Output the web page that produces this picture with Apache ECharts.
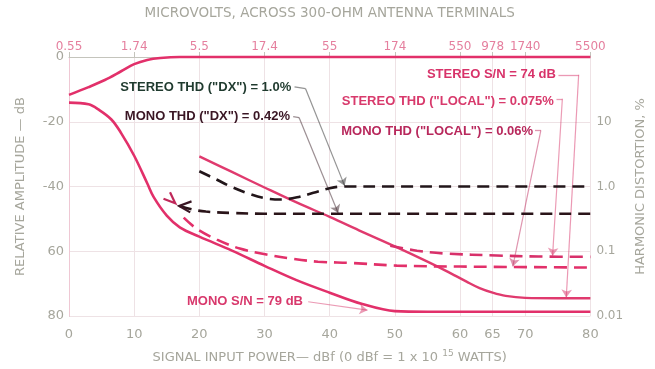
<!DOCTYPE html>
<html><head><meta charset="utf-8">
<script src="https://cdn.jsdelivr.net/npm/echarts@6/dist/echarts.min.js"></script>
<style>html,body{margin:0;padding:0;background:#fff}#c{width:655px;height:369px}</style>
</head><body><div id="c"></div>
<script>
// ---- axis ticks / labels ----
const xTicks = [0, 10, 20, 30, 40, 50, 60, 65, 70, 80];
const xTickLabels = ["0", "10", "20", "30", "40", "50", "60", "65", "70", "80"];
const microvoltLabels = ["0.55", "1.74", "5.5", "17.4", "55", "174", "550", "978", "1740", "5500"];
const yTicks = [0, -20, -40, -60, -80];
const yTickLabels = ["0", "-20", "-40", "60", "80"];
const distTicks = [10, 1, 0.1, 0.01];
const distTickLabels = ["10", "1.0", "0.1", "0.01"];

// ---- series (x = dBf; y = dB or %) ----
const outputLevel = [[0,-11.7],[3,-9.3],[5.5,-7.1],[8,-4.4],[10,-2.2],[12,-0.9],[14,-0.3],[17,0],[25,0],[50,0],[80,0]];
const monoSN = [[0,-14.1],[3,-14.6],[4.5,-16.2],[6.5,-19.3],[8,-23.5],[10,-30.5],[12,-39],[13,-43.3],[15,-49],[17,-52.6],[20,-55.5],[25,-59.8],[30,-64.5],[35,-69],[40,-72.8],[45,-76.3],[50,-78.5],[55,-78.7],[80,-78.7]];
const stereoSN = [[20,-30.7],[25,-35.5],[30,-40.3],[35,-45],[40,-49.4],[45,-54],[50,-58.5],[55,-63.2],[58,-66.2],[61,-69.4],[63,-71.4],[65,-72.8],[67,-73.8],[70,-74.4],[75,-74.5],[80,-74.5]];
const stereoThdDx = [[20,1.72],[22.5,1.3],[25,0.98],[27.5,0.78],[30,0.66],[32.5,0.63],[35,0.68],[37.5,0.8],[40,0.94],[42,1.0],[50,1.0],[80,1.0]];
const monoThdDx = [[17,0.5],[19,0.44],[21,0.41],[25,0.39],[30,0.38],[80,0.38]];
const monoThdLocal = [[17.6,0.33],[19.6,0.222],[22.7,0.151],[26.2,0.11],[30.3,0.089],[34.1,0.077],[38.2,0.069],[43.3,0.066],[50.3,0.06],[60,0.058],[80,0.056]];
const stereoThdLocal = [[49.3,0.122],[53.4,0.102],[57.9,0.092],[65.6,0.086],[72,0.083],[80,0.082]];

// ---- annotations (data coords on dBf / dB axes) ----
const noteTexts = ['STEREO THD ("DX") = 1.0%', 'MONO THD ("DX") = 0.42%', 'STEREO S/N = 74 dB', 'STEREO THD ("LOCAL") = 0.075%', 'MONO THD ("LOCAL") = 0.06%', 'MONO S/N = 79 dB'];
const noteAnchors = [[34.1,-9.5],[33.9,-18.4],[74.7,-5.5],[74.4,-13.8],[71.2,-23],[35.9,-75.5]];
const noteColors = ['#1f3a2e','#3a1624','#d8336a','#d83a6c','#b8285c','#d8386c'];
const leaderStubs = [[[34.6,-9.2],[36.3,-9.8]],[[34.4,-18.4],[35.3,-18.7]],[[75.1,-5.5],[78.2,-5.5]],[[74.8,-12.9],[75.7,-12.9]],[[71.5,-22.7],[72.4,-22.7]]];
const leaderArrows = [[[36.3,-9.8],[42.3,-39.8]],[[35.3,-18.7],[41.3,-48.2]],[[78.2,-5.5],[76.3,-74.3]],[[75.7,-12.9],[74.2,-61.4]],[[72.4,-22.7],[68.1,-64.7]],[[36.7,-75.6],[45.8,-78.2]]];
const leaderColors = ['#2a2a2a','#3a2028','#d8336a','#d83a6c','#c02c60','#d8386c'];
// small open chevrons at the start of two THD curves
const chevrons = [
  { pts: [[14.5,-43.8],[16.3,-45.2],[15.5,-41.8]], color: '#c0285a' },
  { pts: [[18.8,-44.6],[16.9,-46.0],[18.6,-48.0]], color: '#3a1624' }
];

const PINK = '#e2306a';
const GREY = '#a6a69c';
const chart = echarts.init(document.getElementById('c'));

function near(a, b) { return Math.abs(a - b) < 1e-9 * Math.max(1, Math.abs(b)) + 1e-12; }

const option = {
  animation: false,
  backgroundColor: '#fff',
  grid: { left: 69, right: 60, top: 57, bottom: 51 },
  xAxis: [
    {
      type: 'value', min: 0, max: 80, position: 'bottom',
      name: '{t|SIGNAL INPUT POWER— dBf (0 dBf = 1 x 10 }{s|15}{t| WATTS)}',
      nameLocation: 'middle', nameGap: 33,
      nameTextStyle: { rich: { t: { color: GREY, fontSize: 13, fontFamily: 'DejaVu Sans' }, s: { color: GREY, fontSize: 9, fontFamily: 'DejaVu Sans', verticalAlign: 'bottom', padding: [0,0,8,0] } } },
      axisLine: { show: true, lineStyle: { color: '#c4c4bc', width: 1 } },
      axisTick: { show: true, inside: true, length: 5, customValues: xTicks, lineStyle: { color: '#c4c4bc' } },
      axisLabel: { customValues: xTicks, formatter: v => { const i = xTicks.indexOf(v); return i >= 0 ? xTickLabels[i] : ''; }, color: GREY, fontSize: 13, fontFamily: 'DejaVu Sans', margin: 12 },
      splitLine: { show: true, lineStyle: { color: '#eee2e5', width: 1 } }
    },
    {
      type: 'value', min: 0, max: 80, position: 'top',
      name: 'MICROVOLTS, ACROSS 300-OHM ANTENNA TERMINALS',
      nameLocation: 'middle', nameGap: 37,
      nameTextStyle: { color: GREY, fontSize: 13.5, fontFamily: 'DejaVu Sans' },
      axisLine: { show: false },
      axisTick: { show: false },
      axisLabel: { customValues: xTicks, formatter: v => { const i = xTicks.indexOf(v); return i >= 0 ? microvoltLabels[i] : ''; }, color: '#e57f9e', fontSize: 12, fontFamily: 'DejaVu Sans', margin: 4 },
      splitLine: { show: false }
    }
  ],
  yAxis: [
    {
      type: 'value', min: -80, max: 0, interval: 20,
      name: 'RELATIVE AMPLITUDE — dB', nameLocation: 'middle', nameGap: 42, nameRotate: 90,
      nameTextStyle: { color: GREY, fontSize: 13, fontFamily: 'DejaVu Sans' },
      axisLine: { show: true, lineStyle: { color: '#c4c4bc', width: 1 } },
      axisTick: { show: false },
      axisLabel: { formatter: v => { const i = yTicks.indexOf(v); return i >= 0 ? yTickLabels[i] : ''; }, color: GREY, fontSize: 13, fontFamily: 'DejaVu Sans', margin: 5 },
      splitLine: { show: true, lineStyle: { color: '#eee2e5', width: 1 } }
    },
    {
      type: 'log', logBase: 10, min: 0.01, max: 100, position: 'right',
      name: 'HARMONIC DISTORTION, %', nameLocation: 'middle', nameGap: 36, nameRotate: 90,
      nameTextStyle: { color: GREY, fontSize: 13, fontFamily: 'DejaVu Sans' },
      axisLine: { show: true, lineStyle: { color: '#efc8d4', width: 1 } },
      axisTick: { show: false },
      axisLabel: { formatter: v => { for (let i = 0; i < distTicks.length; i++) if (near(v, distTicks[i])) return distTickLabels[i]; return ''; }, color: GREY, fontSize: 12, fontFamily: 'DejaVu Sans', margin: 6 },
      splitLine: { show: false }
    }
  ],
  series: [
    { name: 'Output level', type: 'line', data: outputLevel, xAxisIndex: 0, yAxisIndex: 0, smooth: 0.35, showSymbol: false, clip: false, lineStyle: { color: PINK, width: 2.6 } },
    { name: 'Mono S/N', type: 'line', data: monoSN, xAxisIndex: 0, yAxisIndex: 0, smooth: 0.35, showSymbol: false, clip: false, lineStyle: { color: PINK, width: 2.6 } },
    { name: 'Stereo S/N', type: 'line', data: stereoSN, xAxisIndex: 0, yAxisIndex: 0, smooth: 0.35, showSymbol: false, clip: false, lineStyle: { color: '#e03a6e', width: 2.4 } },
    { name: 'Stereo THD DX', type: 'line', data: stereoThdDx, xAxisIndex: 0, yAxisIndex: 1, smooth: 0.35, showSymbol: false, lineStyle: { color: '#22161a', width: 2.6, type: [12, 7] } },
    { name: 'Mono THD DX', type: 'line', data: monoThdDx, xAxisIndex: 0, yAxisIndex: 1, smooth: 0.35, showSymbol: false, lineStyle: { color: '#2a1419', width: 2.6, type: [12, 7] } },
    { name: 'Mono THD local', type: 'line', data: monoThdLocal, xAxisIndex: 0, yAxisIndex: 1, smooth: 0.35, showSymbol: false, lineStyle: { color: '#e2306a', width: 2.6, type: [13, 7] } },
    { name: 'Stereo THD local', type: 'line', data: stereoThdLocal, xAxisIndex: 0, yAxisIndex: 1, smooth: 0.35, showSymbol: false, lineStyle: { color: '#d8306a', width: 2.6, type: [13, 7] } },
    { name: 'stubs', type: 'lines', coordinateSystem: 'cartesian2d', xAxisIndex: 0, yAxisIndex: 0, symbol: 'none', silent: true,
      data: leaderStubs.map((c, i) => ({ coords: c, lineStyle: { color: leaderColors[i], width: 1.3 } })) },
    { name: 'arrows', type: 'lines', coordinateSystem: 'cartesian2d', xAxisIndex: 0, yAxisIndex: 0, symbol: ['none', 'arrow'], symbolSize: 8, silent: true,
      data: leaderArrows.map((c, i) => ({ coords: c, lineStyle: { color: leaderColors[i], width: 1.2 } })) }
  ]
};
chart.setOption(option);

function toPx(p) {
  return [chart.convertToPixel({ xAxisIndex: 0 }, p[0]), chart.convertToPixel({ yAxisIndex: 0 }, p[1])];
}
const graphics = noteTexts.map((t, i) => {
  const [px, py] = toPx(noteAnchors[i]);
  return { type: 'text', x: px, y: py, style: { text: t, fill: noteColors[i], font: 'bold 13px "Liberation Sans", Arial, sans-serif', align: 'right', verticalAlign: 'middle' }, z: 100 };
});
chevrons.forEach(c => {
  graphics.push({ type: 'polyline', shape: { points: c.pts.map(toPx) }, style: { stroke: c.color, lineWidth: 2.2, fill: null }, z: 90 });
});
chart.setOption({ graphic: graphics });
</script>
</body></html>
